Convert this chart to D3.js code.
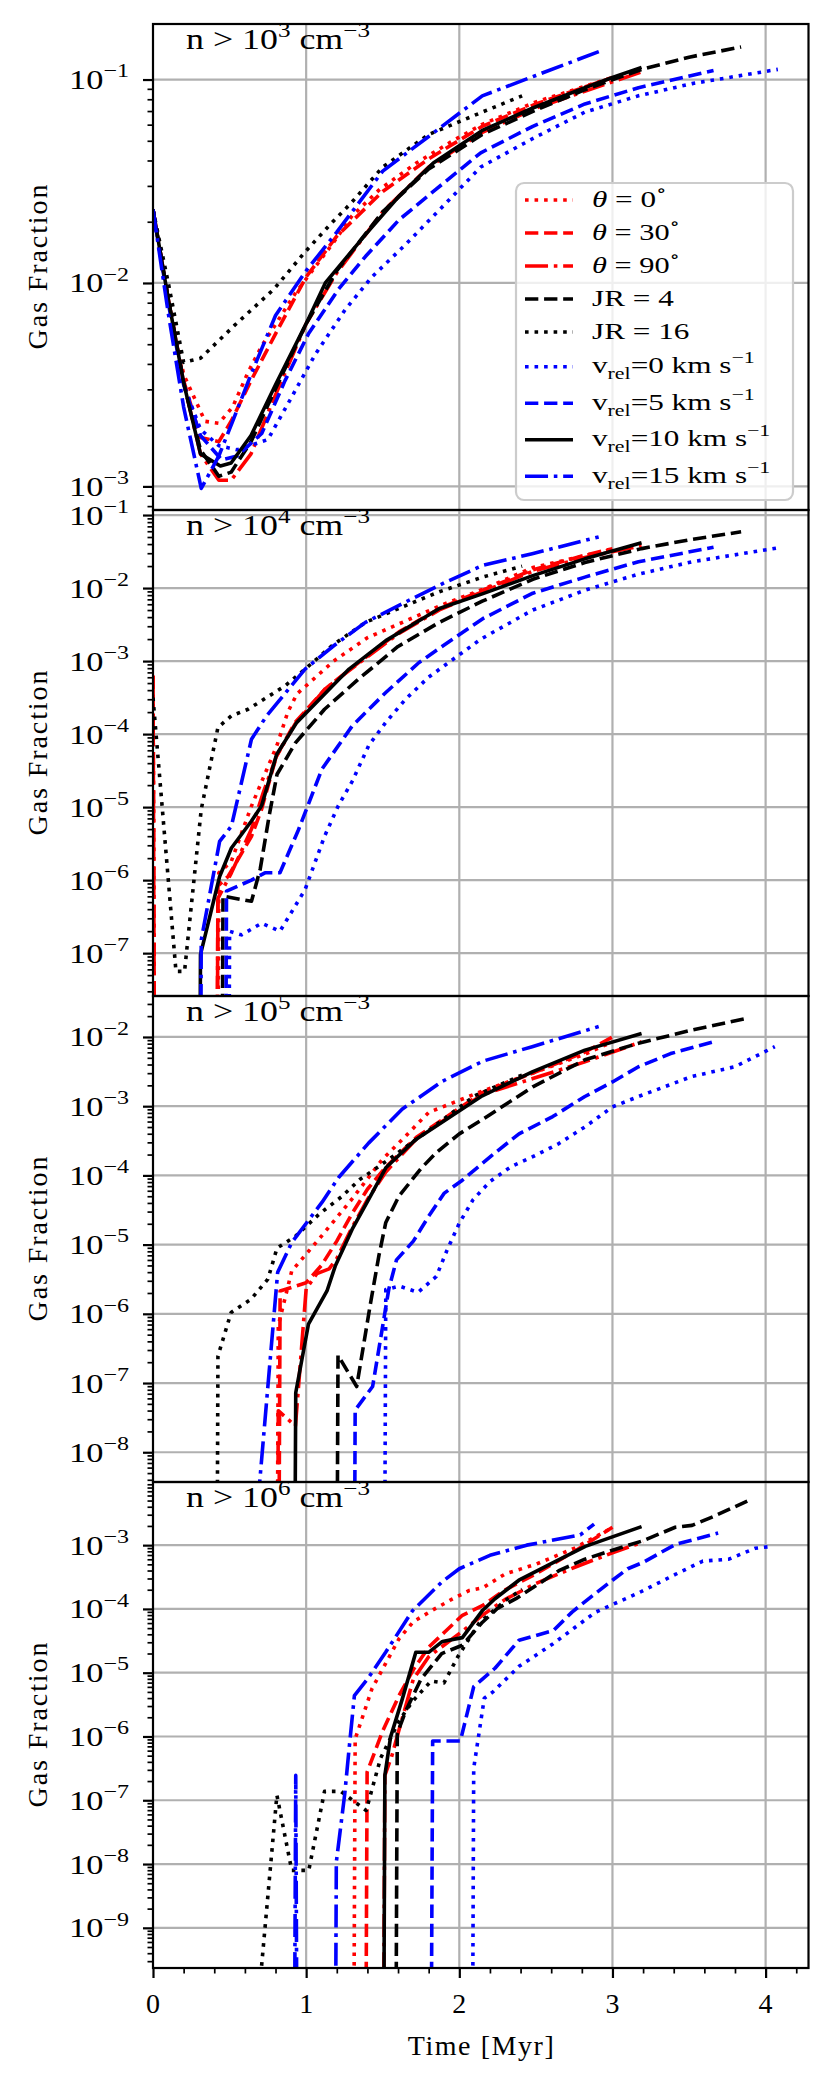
<!DOCTYPE html>
<html>
<head>
<meta charset="utf-8">
<script src="https://cdn.jsdelivr.net/npm/d3@7"></script>
<style>
  body { margin: 0; background: #fff; }
  text { font-family: "Liberation Serif", "DejaVu Serif", serif; fill: #000; }
</style>
</head>
<body>
<div id="chart"></div>
<script>
/* Axis limits and ticks */
const xDomain = [0, 4.28]
const xTicks = [0, 1, 2, 3, 4]
const panelDensity = ["3", "4", "5", "6"]          // n > 10^k cm^-3
const panelLogLimits = [[-3.116, -0.727], [-7.587, -0.931], [-8.43, -1.408], [-9.63, -2.01]]

/* Data: time [Myr] and log10(gas fraction), one inner array per panel; null = no gas above threshold */
const theta0Time = [
  [0, 0.1, 0.2, 0.34, 0.43, 0.52, 0.62, 0.71, 0.82, 0.93, 1.17, 1.30, 1.48, 1.72, 1.96, 2.15, 2.5, 3.0],
  [0, 0.1, 0.31, 0.43, 0.51, 0.64, 0.72, 0.81, 0.88, 0.94, 1.02, 1.18, 1.4, 1.65, 1.9, 2.15, 2.48, 3.0],
  [0.72, 0.818, 0.906, 1.103, 1.30, 1.497, 1.65, 1.80, 2.153, 2.48, 2.82, 3.0],
  [1.22, 1.32, 1.43, 1.52, 1.606, 1.7, 1.825, 1.95, 2.066, 2.153, 2.3, 2.5, 2.75, 2.98]]
const theta0LogFrac = [
  [-1.64, -2.08, -2.45, -2.68, -2.69, -2.61, -2.44, -2.31, -2.18, -2.05, -1.81, -1.67, -1.54, -1.41, -1.30, -1.22, -1.11, -0.99],
  [-3.2, null, null, -5.9, -5.75, -5.0, -4.6, -4.15, -3.7, -3.45, -3.3, -3.0, -2.68, -2.45, -2.22, -2.02, -1.72, -1.47],
  [null, -6.17, -5.38, -4.87, -4.34, -3.77, -3.43, -3.09, -2.78, -2.52, -2.25, -2.07],
  [null, -6.04, -5.25, -4.85, -4.47, -4.2, -4.02, -3.85, -3.71, -3.67, -3.45, -3.3, -3.05, -2.75]]

const theta30Time = [
  [0, 0.1, 0.2, 0.31, 0.43, 0.51, 0.64, 0.8, 1.0, 1.2, 1.5, 1.8, 2.15, 2.5, 3.0],
  [0, 0.1, 0.31, 0.424, 0.49, 0.643, 0.709, 0.775, 0.807, 0.928, 1.125, 1.343, 1.606, 1.87, 2.153, 2.48, 2.82, 3.0],
  [0.72, 0.83, 0.93, 1.0, 1.1, 1.2, 1.3, 1.4, 1.52, 1.72, 2.153, 2.48, 2.82, 3.0],
  [1.30, 1.398, 1.497, 1.606, 1.70, 1.80, 1.91, 2.02, 2.15, 2.3, 2.5, 2.75, 3.0]]
const theta30LogFrac = [
  [-1.64, -2.08, -2.48, -2.76, -2.78, -2.68, -2.48, -2.25, -1.97, -1.77, -1.55, -1.39, -1.23, -1.12, -0.99],
  [-3.2, null, null, -6.08, -5.95, -5.40, -5.03, -4.53, -4.3, -3.84, -3.38, -3.02, -2.60, -2.28, -2.03, -1.75, -1.55, -1.46],
  [null, -5.67, -5.60, -5.55, -5.3, -4.95, -4.55, -4.2, -3.88, -3.45, -2.8, -2.52, -2.22, -2.0],
  [null, -6.56, -5.93, -5.36, -4.95, -4.6, -4.35, -4.1, -3.95, -3.7, -3.45, -3.1, -2.72]]

const theta90Time = [
  [0, 0.1, 0.2, 0.31, 0.43, 0.51, 0.64, 0.8, 1.0, 1.2, 1.5, 1.8, 2.15, 2.5, 3.2],
  [0, 0.1, 0.31, 0.424, 0.512, 0.643, 0.72, 0.807, 0.928, 1.125, 1.343, 1.606, 1.87, 2.153, 2.48, 2.82, 3.19],
  [0.72, 0.818, 0.93, 1.0, 1.07, 1.15, 1.2, 1.3, 1.4, 1.52, 1.72, 2.153, 2.48, 2.82, 3.19],
  [1.40, 1.514, 1.56, 1.606, 1.70, 1.80, 1.91, 2.02, 2.15, 2.3, 2.5, 2.75, 3.0, 3.2]]
const theta90LogFrac = [
  [-1.64, -2.08, -2.49, -2.84, -2.97, -2.97, -2.84, -2.55, -2.2, -1.95, -1.65, -1.43, -1.26, -1.14, -0.96],
  [-3.2, null, null, -6.25, -5.9, -5.3, -4.8, -4.3, -3.86, -3.38, -3.03, -2.62, -2.3, -2.05, -1.77, -1.58, -1.42],
  [null, -7.40, -7.62, -5.64, -5.42, -5.35, -5.2, -4.75, -4.35, -3.95, -3.47, -2.83, -2.6, -2.36, -2.07],
  [null, -6.61, -6.3, -5.9, -5.1, -4.75, -4.55, -4.35, -4.1, -3.85, -3.6, -3.35, -3.12, -2.95]]

const jr4Time = [
  [0, 0.1, 0.2, 0.31, 0.43, 0.51, 0.64, 0.8, 1.0, 1.2, 1.5, 1.8, 2.15, 2.5, 2.82, 3.19, 3.5, 3.84],
  [0.35, 0.457, 0.643, 0.70, 0.76, 0.81, 0.93, 1.12, 1.34, 1.6, 1.87, 2.15, 2.48, 2.82, 3.19, 3.5, 3.84],
  [1.10, 1.208, 1.33, 1.42, 1.475, 1.52, 1.606, 1.75, 1.85, 2.0, 2.153, 2.48, 2.82, 3.17, 3.52, 3.88],
  [1.50, 1.595, 1.65, 1.75, 1.885, 2.02, 2.146, 2.25, 2.37, 2.65, 2.82, 3.0, 3.2, 3.41, 3.52, 3.66, 3.88]]
const jr4LogFrac = [
  [-1.64, -2.08, -2.49, -2.82, -2.95, -2.93, -2.78, -2.52, -2.2, -1.94, -1.65, -1.44, -1.27, -1.15, -1.05, -0.95, -0.89, -0.84],
  [null, -6.22, -6.29, -5.85, -5.1, -4.55, -4.12, -3.66, -3.25, -2.8, -2.47, -2.18, -1.88, -1.65, -1.46, -1.34, -1.23],
  [null, -6.6, -7.05, -5.85, -5.16, -4.68, -4.3, -3.9, -3.67, -3.4, -3.19, -2.72, -2.33, -2.09, -1.90, -1.73],
  [null, -5.95, -5.6, -5.1, -4.70, -4.57, -4.22, -3.99, -3.84, -3.40, -3.22, -3.08, -2.93, -2.72, -2.69, -2.55, -2.31]]

const jr16Time = [
  [0, 0.1, 0.2, 0.31, 0.53, 0.79, 0.99, 1.16, 1.29, 1.5, 1.8, 2.15, 2.41],
  [0, 0.15, 0.206, 0.315, 0.424, 0.512, 0.621, 0.862, 0.993, 1.168, 1.387, 1.65, 1.87, 2.153, 2.41],
  [0.33, 0.424, 0.51, 0.64, 0.75, 0.81, 0.93, 1.09, 1.23, 1.35, 1.52, 1.8, 2.1, 2.41],
  [0.59, 0.694, 0.809, 0.906, 1.017, 1.12, 1.226, 1.392, 1.486, 1.608, 1.694, 1.816, 1.90, 1.99, 2.13, 2.30, 2.41]]
const jr16LogFrac = [
  [-1.64, -2.0, -2.39, -2.37, -2.21, -2.03, -1.85, -1.71, -1.61, -1.43, -1.27, -1.16, -1.08],
  [-3.5, -7.25, -7.25, -5.03, -3.91, -3.75, -3.66, -3.34, -3.11, -2.79, -2.47, -2.24, -2.05, -1.85, -1.70],
  [null, -6.61, -5.98, -5.79, -5.5, -5.05, -4.88, -4.55, -4.31, -4.06, -3.8, -3.35, -2.85, -2.55],
  [null, -10.0, -6.92, -8.10, -8.10, -6.86, -6.86, -7.16, -6.34, -5.75, -5.45, -5.13, -5.16, -4.75, -4.22, -3.87, -3.69]]

const v0Time = [
  [0, 0.1, 0.2, 0.31, 0.43, 0.55, 0.75, 0.906, 1.06, 1.256, 1.43, 1.65, 1.91, 2.14, 2.48, 2.82, 3.17, 3.52, 4.08],
  [0.40, 0.50, 0.578, 0.709, 0.829, 0.993, 1.12, 1.21, 1.30, 1.41, 1.52, 1.65, 1.8, 1.95, 2.14, 2.48, 2.82, 3.17, 3.52, 4.08],
  [1.42, 1.52, 1.61, 1.73, 1.85, 1.92, 2.0, 2.09, 2.2, 2.34, 2.48, 2.65, 2.82, 3.0, 3.17, 3.52, 3.80, 4.06],
  [2.0, 2.094, 2.163, 2.22, 2.39, 2.61, 2.75, 2.89, 3.17, 3.41, 3.59, 3.76, 3.93, 4.04]]
const v0LogFrac = [
  [-1.64, -2.1, -2.5, -2.72, -2.8, -2.82, -2.77, -2.56, -2.35, -2.13, -1.97, -1.81, -1.61, -1.43, -1.29, -1.16, -1.08, -1.02, -0.95],
  [null, -6.70, -6.75, -6.59, -6.70, -6.13, -5.40, -4.98, -4.65, -4.15, -3.84, -3.52, -3.22, -2.99, -2.70, -2.30, -2.03, -1.81, -1.64, -1.45],
  [null, -5.65, -5.60, -5.69, -5.46, -5.08, -4.69, -4.35, -4.09, -3.87, -3.73, -3.54, -3.30, -3.01, -2.86, -2.57, -2.43, -2.14],
  [null, -6.5, -5.4, -5.3, -4.9, -4.55, -4.3, -4.05, -3.75, -3.46, -3.25, -3.22, -3.05, -3.02]]

const v5Time = [
  [0, 0.1, 0.2, 0.31, 0.45, 0.55, 0.71, 0.862, 1.015, 1.212, 1.387, 1.606, 1.847, 2.14, 2.48, 2.82, 3.17, 3.66],
  [0.38, 0.48, 0.643, 0.731, 0.829, 0.95, 1.103, 1.30, 1.52, 1.737, 1.956, 2.153, 2.48, 2.82, 3.17, 3.66],
  [1.22, 1.32, 1.434, 1.54, 1.59, 1.70, 1.80, 1.90, 2.02, 2.23, 2.39, 2.61, 2.82, 3.0, 3.17, 3.38, 3.66],
  [1.72, 1.826, 2.007, 2.094, 2.233, 2.39, 2.614, 2.736, 2.86, 3.0, 3.10, 3.2, 3.41, 3.69]]
const v5LogFrac = [
  [-1.64, -2.1, -2.5, -2.75, -2.87, -2.85, -2.74, -2.48, -2.25, -2.03, -1.87, -1.69, -1.54, -1.36, -1.23, -1.12, -1.04, -0.955],
  [null, -6.15, -6.0, -5.90, -5.90, -5.31, -4.48, -3.89, -3.43, -3.02, -2.70, -2.42, -2.07, -1.85, -1.64, -1.44],
  [null, -7.39, -7.05, -5.64, -5.22, -4.95, -4.59, -4.26, -4.07, -3.68, -3.4, -3.15, -2.86, -2.65, -2.43, -2.24, -2.07],
  [null, -6.07, -6.07, -5.22, -4.93, -4.49, -4.34, -4.05, -3.81, -3.55, -3.37, -3.27, -2.99, -2.81]]

const v10Time = [
  [0, 0.1, 0.2, 0.31, 0.44, 0.51, 0.64, 0.8, 1.0, 1.125, 1.39, 1.61, 1.83, 2.15, 2.48, 2.82, 3.0, 3.19],
  [0.2, 0.31, 0.435, 0.512, 0.643, 0.709, 0.807, 0.939, 1.28, 1.52, 1.87, 2.15, 2.48, 2.82, 3.19],
  [0.81, 0.932, 1.015, 1.136, 1.19, 1.30, 1.41, 1.52, 1.716, 2.15, 2.48, 2.82, 3.19],
  [1.42, 1.514, 1.551, 1.628, 1.716, 1.80, 1.89, 2.02, 2.153, 2.233, 2.389, 2.632, 2.823, 3.19]]
const v10LogFrac = [
  [-1.64, -2.08, -2.49, -2.84, -2.90, -2.885, -2.75, -2.50, -2.20, -2.0, -1.76, -1.57, -1.41, -1.25, -1.14, -1.04, -0.99, -0.94],
  [null, -7.02, -5.95, -5.56, -5.19, -4.98, -4.28, -3.84, -3.11, -2.72, -2.28, -2.08, -1.83, -1.6, -1.38],
  [null, -7.14, -6.15, -5.67, -5.31, -4.78, -4.34, -3.89, -3.48, -2.85, -2.5, -2.19, -1.95],
  [null, -6.61, -6.01, -5.41, -4.68, -4.68, -4.51, -4.45, -4.02, -3.84, -3.55, -3.25, -3.02, -2.71]]

const v15Time = [
  [0, 0.1, 0.2, 0.315, 0.43, 0.52, 0.64, 0.8, 1.0, 1.2, 1.5, 1.8, 2.15, 2.5, 2.92],
  [0.2, 0.315, 0.435, 0.512, 0.643, 0.742, 0.993, 1.18, 1.387, 1.65, 1.91, 2.153, 2.476, 2.91],
  [0.59, 0.69, 0.814, 0.906, 1.103, 1.212, 1.409, 1.628, 1.89, 2.153, 2.476, 2.91],
  [0.83, 0.932, 1.03, 1.10, 1.197, 1.252, 1.28, 1.315, 1.40, 1.519, 1.694, 1.885, 2.0, 2.2, 2.44, 2.79, 2.88]]
const v15LogFrac = [
  [-1.64, -2.15, -2.61, -3.01, -2.85, -2.68, -2.45, -2.16, -1.94, -1.75, -1.45, -1.28, -1.08, -0.98, -0.86],
  [null, -6.82, -5.47, -5.26, -4.07, -3.75, -3.11, -2.79, -2.47, -2.19, -1.92, -1.69, -1.53, -1.30],
  [null, -8.6, -5.40, -4.97, -4.39, -4.03, -3.53, -3.04, -2.64, -2.35, -2.14, -1.85],
  [null, -6.61, null, null, -7.97, -6.9, -6.2, -5.36, -5.10, -4.68, -4.03, -3.58, -3.37, -3.16, -3.0, -2.84, -2.67]]

/* Legend labels, as text runs (i = italic, sub / sup = sub- or superscript) */
const seriesLabels = [
  [{t: "θ", i: true}, {t: " = 0"}, {t: "∘", sup: true}],
  [{t: "θ", i: true}, {t: " = 30"}, {t: "∘", sup: true}],
  [{t: "θ", i: true}, {t: " = 90"}, {t: "∘", sup: true}],
  [{t: "JR = 4"}],
  [{t: "JR = 16"}],
  [{t: "v"}, {t: "rel", sub: true}, {t: "=0 km s"}, {t: "−1", sup: true}],
  [{t: "v"}, {t: "rel", sub: true}, {t: "=5 km s"}, {t: "−1", sup: true}],
  [{t: "v"}, {t: "rel", sub: true}, {t: "=10 km s"}, {t: "−1", sup: true}],
  [{t: "v"}, {t: "rel", sub: true}, {t: "=15 km s"}, {t: "−1", sup: true}]
]
const seriesColors = ["#ff0000", "#ff0000", "#ff0000", "#000000", "#000000", "#0000ff", "#0000ff", "#000000", "#0000ff"]
const seriesStyles = ["dotted", "dashed", "dashdot", "dashed", "dotted", "dotted", "dashed", "solid", "dashdot"]
const seriesTimes = [theta0Time, theta30Time, theta90Time, jr4Time, jr16Time, v0Time, v5Time, v10Time, v15Time]
const seriesLogFracs = [theta0LogFrac, theta30LogFrac, theta90LogFrac, jr4LogFrac, jr16LogFrac, v0LogFrac, v5LogFrac, v10LogFrac, v15LogFrac]

/* Layout */
const width = 830
const height = 2086
const plotLeft = 153
const plotRight = 808.5
const plotTop = 24
const plotBottom = 1968
const panelH = (plotBottom - plotTop) / 4
const LW = 3.6
const DASHES = {solid: null, dashed: [3.7 * LW, 1.6 * LW], dotted: [LW, 1.65 * LW], dashdot: [6.4 * LW, 1.6 * LW, LW, 1.6 * LW]}
const FLOOR = 1e-60   // zero fraction is clipped far below the axis, like matplotlib
const TICKFONT = 28
const GRID = "#b0b0b0"

/* Helper: a <text> at (x, y) made of runs with super/subscripts, stretched sideways
   so it takes the width of the Computer Modern original */
const richText = (parent, x0, y0, parts, size, anchor, target) => {
  const g = parent.append("g").attr("transform", "translate(" + x0 + "," + y0 + ")")
  const sel = g.append("text").attr("font-size", size + "px").attr("text-anchor", anchor)
  let shift = 0
  parts.forEach((p) => {
    const ts = sel.append("tspan").text(p.t)
    let target = 0
    if (p.sup) target = -0.42 * size
    if (p.sub) target = 0.25 * size
    if (p.sup || p.sub) ts.attr("font-size", (0.7 * size) + "px")
    if (p.i) ts.attr("font-style", "italic")
    if (target !== shift) { ts.attr("dy", target - shift); shift = target }
  })
  if (target) {
    const w = sel.node().getComputedTextLength()
    const k = Math.min(1.3, Math.max(1, target / w))
    sel.attr("transform", "scale(" + k + ",1)")
  }
  return sel
}

const svg = d3.select("#chart").append("svg")
  .attr("width", width).attr("height", height)
  .style("background", "#fff")

const x = d3.scaleLinear().domain(xDomain).range([plotLeft, plotRight])

panelLogLimits.forEach((lim, p) => {
  const top = plotTop + p * panelH
  const bot = top + panelH
  const y = d3.scaleLog().domain([Math.pow(10, lim[0]), Math.pow(10, lim[1])]).range([bot, top])
  const g = svg.append("g")

  svg.append("clipPath").attr("id", "clip" + p)
    .append("rect").attr("x", plotLeft).attr("y", top).attr("width", plotRight - plotLeft).attr("height", panelH)

  /* grid */
  const majorExp = d3.range(Math.ceil(lim[0]), Math.floor(lim[1]) + 1)
  const majors = majorExp.map((e) => Math.pow(10, e))
  g.append("g").selectAll("line").data(xTicks.filter((t) => t > 0)).join("line")
    .attr("x1", (d) => x(d)).attr("x2", (d) => x(d)).attr("y1", top).attr("y2", bot)
    .attr("stroke", GRID).attr("stroke-width", 2.2)
  g.append("g").selectAll("line").data(majors).join("line")
    .attr("x1", plotLeft).attr("x2", plotRight).attr("y1", (d) => y(d)).attr("y2", (d) => y(d))
    .attr("stroke", GRID).attr("stroke-width", 2.2)

  /* curves */
  const line = d3.line()
    .x((d) => x(d[0]))
    .y((d) => y(d[1] === null ? FLOOR : Math.pow(10, d[1])))
  const lines = g.append("g").attr("clip-path", "url(#clip" + p + ")")
  seriesTimes.forEach((times, s) => {
    const pts = times[p].map((t, k) => [t, seriesLogFracs[s][p][k]])
    lines.append("path").datum(pts)
      .attr("d", line)
      .attr("fill", "none")
      .attr("stroke", seriesColors[s])
      .attr("stroke-width", LW)
      .attr("stroke-linejoin", "round")
      .attr("stroke-linecap", "butt")
      .attr("stroke-dasharray", DASHES[seriesStyles[s]] ? DASHES[seriesStyles[s]].join(",") : null)
  })

  /* y ticks */
  const minors = []
  d3.range(Math.floor(lim[0]), Math.ceil(lim[1])).forEach((e) => {
    for (let m = 2; m <= 9; m++) {
      const v = m * Math.pow(10, e)
      if (Math.log10(v) >= lim[0] && Math.log10(v) <= lim[1]) minors.push(v)
    }
  })
  const yMinor = g.append("g").attr("transform", "translate(" + plotLeft + ",0)")
    .call(d3.axisLeft(y).tickValues(minors).tickSize(5.5).tickFormat(""))
  yMinor.select(".domain").remove()
  yMinor.selectAll("line").attr("stroke-width", 1.7)
  const yMajor = g.append("g").attr("transform", "translate(" + plotLeft + ",0)")
    .call(d3.axisLeft(y).tickValues(majors).tickSize(10).tickFormat(""))
  yMajor.select(".domain").remove()
  yMajor.selectAll("line").attr("stroke-width", 2.2)

  majorExp.forEach((e) => {
    richText(g, plotLeft - 24, y(Math.pow(10, e)) + 9.5, [{t: "10"}, {t: "−" + (-e), sup: true}], TICKFONT, "end", 60)
  })

  /* spines */
  g.append("rect").attr("x", plotLeft).attr("y", top).attr("width", plotRight - plotLeft).attr("height", panelH)
    .attr("fill", "none").attr("stroke", "#000").attr("stroke-width", 2.2)

  /* density label */
  richText(g, 186, top + 25, [{t: "n > 10"}, {t: panelDensity[p], sup: true}, {t: " cm"}, {t: "−3", sup: true}], 29, "start", 184)

  /* y label */
  g.append("text")
    .attr("transform", "translate(47," + (top + panelH / 2) + ") rotate(-90)")
    .attr("text-anchor", "middle").attr("font-size", "28px")
    .attr("textLength", 165).attr("lengthAdjust", "spacing")
    .text("Gas Fraction")

  /* x axis on the bottom panel */
  if (p === 3) {
    const xMinor = g.append("g").attr("transform", "translate(0," + bot + ")")
      .call(d3.axisBottom(x).tickValues(d3.range(0.2, 4.28, 0.2).filter((v) => Math.abs(v - Math.round(v)) > 1e-6)).tickSize(5.5).tickFormat(""))
    xMinor.select(".domain").remove()
    xMinor.selectAll("line").attr("stroke-width", 1.7)
    const xMajor = g.append("g").attr("transform", "translate(0," + bot + ")")
      .call(d3.axisBottom(x).tickValues(xTicks).tickSize(10).tickFormat(""))
    xMajor.select(".domain").remove()
    xMajor.selectAll("line").attr("stroke-width", 2.2)
    g.append("g").selectAll("text").data(xTicks).join("text")
      .attr("x", (d) => x(d)).attr("y", bot + 45)
      .attr("text-anchor", "middle").attr("font-size", TICKFONT + "px")
      .text((d) => d)
    g.append("text").attr("x", (plotLeft + plotRight) / 2).attr("y", 2055)
      .attr("text-anchor", "middle").attr("font-size", "28px")
      .attr("textLength", 146).attr("lengthAdjust", "spacing")
      .text("Time [Myr]")
  }
})

/* Legend in the top panel */
const legend = svg.append("g")
legend.append("rect").attr("x", 516).attr("y", 183).attr("width", 277).attr("height", 317)
  .attr("rx", 8).attr("fill", "#fff").attr("fill-opacity", 0.8)
  .attr("stroke", "#cccccc").attr("stroke-width", 2.2)
const rowY = (i) => i < 5 ? 200 + 33 * i : 366.7 + 36.5 * (i - 5)
const legendWidths = [82, 88, 88, 90, 104, 176, 176, 190, 190]
seriesLabels.forEach((lab, i) => {
  legend.append("line")
    .attr("x1", 525).attr("x2", 573).attr("y1", rowY(i)).attr("y2", rowY(i))
    .attr("stroke", seriesColors[i]).attr("stroke-width", LW)
    .attr("stroke-dasharray", DASHES[seriesStyles[i]] ? DASHES[seriesStyles[i]].join(",") : null)
  richText(legend, 592, rowY(i) + 6.5, lab, 24, "start", legendWidths[i])
})
</script>
</body>
</html>
